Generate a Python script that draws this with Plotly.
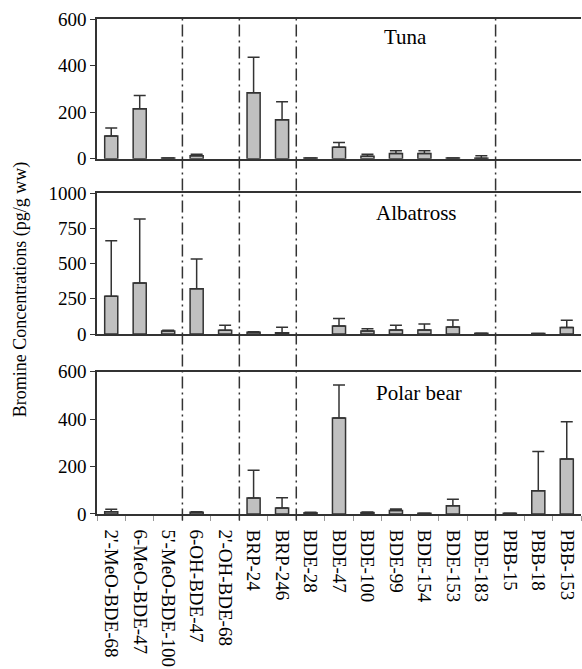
import plotly.graph_objects as go
from plotly.subplots import make_subplots

categories = ["2'-MeO-BDE-68", "6-MeO-BDE-47", "5'-MeO-BDE-100", "6-OH-BDE-47",
              "2'-OH-BDE-68", "BRP-24", "BRP-246", "BDE-28", "BDE-47", "BDE-100",
              "BDE-99", "BDE-154", "BDE-153", "BDE-183", "PBB-15", "PBB-18", "PBB-153"]

tuna_mean = [97, 214, 3, 13, 0, 283, 167, 3, 49, 10, 22, 22, 3, 2, 0, 0, 0]
tuna_err = [35, 57, 0, 6, 0, 153, 78, 0, 21, 9, 12, 12, 0, 11, 0, 0, 0]

albatross_mean = [268, 362, 22, 322, 26, 12, 9, 0, 57, 21, 28, 28, 50, 5, 0, 4, 47]
albatross_err = [395, 455, 5, 211, 36, 5, 39, 0, 54, 17, 34, 43, 50, 0, 0, 0, 50]

polar_mean = [10, 0, 0, 7, 0, 67, 25, 5, 405, 6, 15, 3, 35, 0, 3, 98, 232]
polar_err = [10, 0, 0, 2, 0, 117, 44, 2, 139, 2, 6, 0, 27, 0, 0, 165, 157]

panel_names = ["Tuna", "Albatross", "Polar bear"]
y_ranges = [[0, 600], [0, 1000], [0, 600]]
y_ticks = [[0, 200, 400, 600], [0, 250, 500, 750, 1000], [0, 200, 400, 600]]
group_dividers = [2.5, 4.5, 6.5, 13.5]

means = [tuna_mean, albatross_mean, polar_mean]
errs = [tuna_err, albatross_err, polar_err]

FONT = "Liberation Serif"
LINE = "#333333"

fig = make_subplots(rows=3, cols=1, shared_xaxes=False, vertical_spacing=0.05)

for i in range(3):
    # categories with no detected value are left empty (nothing drawn)
    m = [v if v > 0 else None for v in means[i]]
    e = [er if v > 0 else None for v, er in zip(means[i], errs[i])]
    fig.add_trace(go.Bar(
        x=categories, y=m,
        marker=dict(color="#c0c0c0", line=dict(color=LINE, width=1.5)),
        error_y=dict(type="data", symmetric=False, array=e,
                     arrayminus=[0] * len(categories),
                     color=LINE, thickness=1.5, width=6),
        showlegend=False,
    ), row=i + 1, col=1)

domains = [[0.7178, 1.0], [0.3636, 0.6479], [0.0, 0.2875]]
title_pos = [(0.638, 0.873), (0.661, 0.86), (0.665, 0.85)]
for i in range(3):
    ax = "" if i == 0 else str(i + 1)
    fig.layout["yaxis" + ax].update(
        domain=domains[i], range=y_ranges[i], tickvals=y_ticks[i],
        ticks="outside", ticklen=5, tickcolor=LINE, showgrid=False,
        showline=True, linecolor=LINE, linewidth=1.5, zeroline=False,
        tickfont=dict(family=FONT, size=19, color="black"),
    )
    fig.layout["xaxis" + ax].update(
        type="category", categoryorder="array", categoryarray=categories,
        range=[-0.5, len(categories) - 0.5],
        showline=True, linecolor=LINE, linewidth=1.5, mirror=True,
        showgrid=False, zeroline=False,
        showticklabels=(i == 2),
        ticks="outside" if i == 2 else "", tickson="boundaries",
        ticklen=5, tickcolor="#999999",
        tickangle=90, ticklabelstandoff=10,
        tickfont=dict(family=FONT, size=19, color="black"),
    )
    if i > 0:
        fig.layout["xaxis" + ax].matches = "x"
    fig.add_annotation(
        text=panel_names[i], xref="x" + ax + " domain", yref="y" + ax + " domain",
        x=title_pos[i][0], y=title_pos[i][1], showarrow=False,
        xanchor="center", yanchor="middle",
        font=dict(family=FONT, size=21, color="black"),
    )

for d in group_dividers:
    fig.add_shape(type="line", xref="x", yref="paper", x0=d, x1=d, y0=-0.013, y1=1.0,
                  line=dict(color=LINE, width=1.5, dash="12px,4px,2px,4px"))

fig.add_annotation(
    text="Bromine Concentrations (pg/g ww)", xref="paper", yref="paper",
    x=-0.159, y=0.452, textangle=-90, showarrow=False,
    xanchor="center", yanchor="middle",
    font=dict(family=FONT, size=18, color="black"),
)

fig.update_layout(
    width=582, height=669,
    margin=dict(l=97, r=1, t=19, b=155),
    plot_bgcolor="white", paper_bgcolor="white",
    bargap=0.54,
    font=dict(family=FONT, color="black"),
)

fig.write_html(
    "out.html",
    config={"displayModeBar": False},
    post_script="document.body.style.margin='0';document.body.style.overflow='hidden';",
)
